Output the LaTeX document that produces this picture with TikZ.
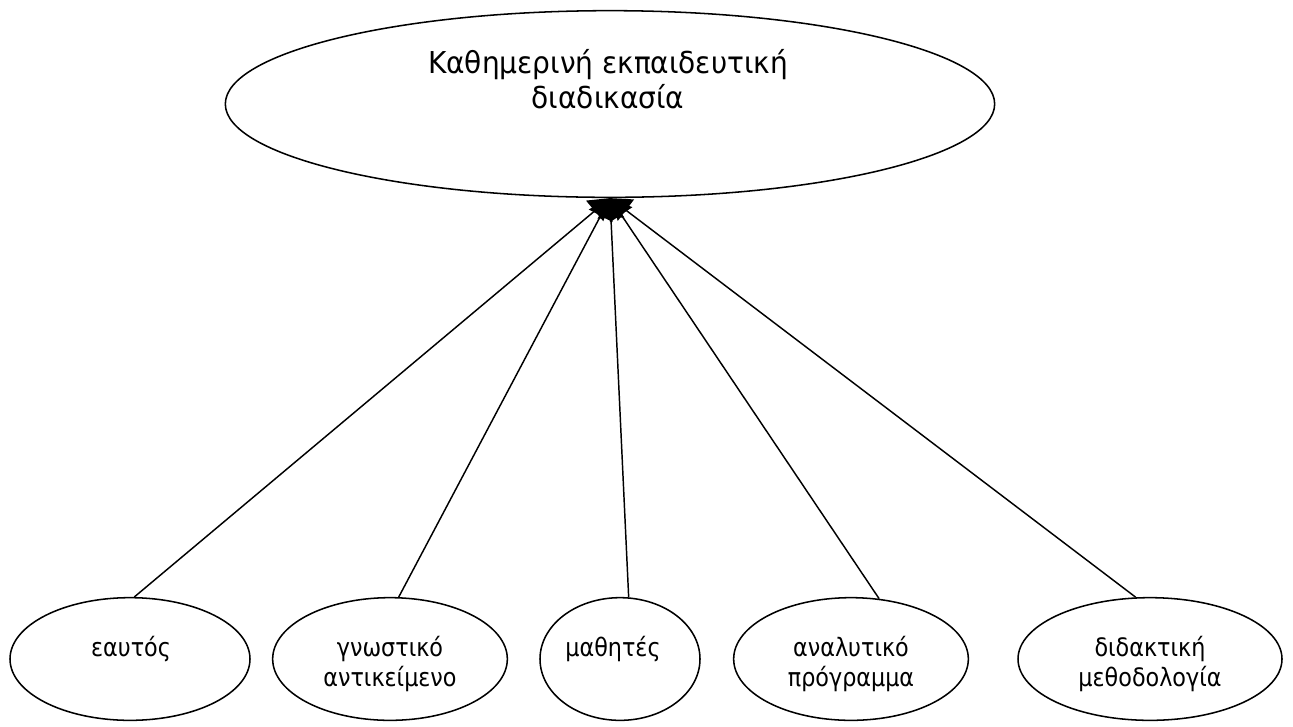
\documentclass[tikz,border=0pt]{standalone}
\usepackage{fontspec}
\setmainfont{DejaVu Sans}
\newfontfamily\topfont[FakeStretch=0.93]{DejaVu Sans}
\newfontfamily\botfont[FakeStretch=0.88]{DejaVu Sans}
\usetikzlibrary{shapes.geometric,arrows.meta}
\begin{document}
\begin{tikzpicture}[x=0.75pt,y=-0.75pt,
  oval/.style={draw,ellipse,line width=1.15pt,inner sep=0pt},
  lbl/.style={anchor=north,align=center,inner sep=0pt,font=\botfont\fontsize{19}{22.5}\selectfont},
  conn/.style={line width=1.1pt,-{Triangle[length=15pt,width=20pt]}}]
\useasboundingbox (0,0) rectangle (1293,726);
\node[oval,minimum width=577pt,minimum height=140pt] (top) at (610,104) {};
\node[anchor=north,align=center,inner sep=0pt,font=\topfont\fontsize{22.6}{26.3}\selectfont] (toplbl) at (608,49) {Καθημερινή εκπαιδευτική\\διαδικασία};
\node[oval,minimum width=180pt,minimum height=92pt] (e1) at (130,659) {};
\node[oval,minimum width=176pt,minimum height=92pt] (e2) at (390,659) {};
\node[oval,minimum width=120pt,minimum height=92pt] (e3) at (620,659) {};
\node[oval,minimum width=176pt,minimum height=92pt] (e4) at (851,659) {};
\node[oval,minimum width=198pt,minimum height=92pt] (e5) at (1150,659) {};
\node[lbl] (t1) at (131,636) {εαυτός};
\node[lbl] (t2) at (390,636) {γνωστικό\\αντικείμενο};
\node[lbl] (t3) at (613,636) {μαθητές};
\node[lbl] (t4) at (851,636) {αναλυτικό\\πρόγραμμα};
\node[lbl] (t5) at (1150,636) {διδακτική\\μεθοδολογία};
\coordinate (tip) at (top.south);
\draw[conn] (e1.86) -- (tip);
\draw[conn] (e2.82) -- (tip);
\draw[conn] (e3.82) -- (tip);
\draw[conn] (e4.65) -- (tip);
\draw[conn] (e5.103) -- (tip);
\end{tikzpicture}
\end{document}
